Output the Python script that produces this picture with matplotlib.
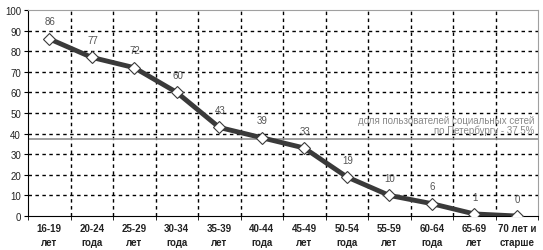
import matplotlib.pyplot as plt
import numpy as np

plt.rcParams['font.family'] = ['Liberation Sans', 'DejaVu Sans']

groups = ['16-19\nлет', '20-24\nгода', '25-29\nлет', '30-34\nгода', '35-39\nлет', '40-44\nгода',
          '45-49\nлет', '50-54\nгода', '55-59\nлет', '60-64\nгода', '65-69\nлет', '70 лет и\nстарше']
share = [86, 77, 72, 60, 43, 38, 33, 19, 10, 6, 1, 0]
share_labels = ['86', '77', '72', '60', '43', '39', '33', '19', '10', '6', '1', '0']
city_avg = 37.5

fig = plt.figure(figsize=(5.43, 2.51), dpi=100)
ax = fig.add_axes([28 / 543, 1 - 217 / 251, 510 / 543, 206 / 251])

x = np.arange(len(share))
ax.set_xlim(-0.5, len(share) - 0.5)
ax.set_ylim(0, 100)

# сетка
for b in np.arange(0.5, len(share) - 0.5, 1):
    ax.axvline(b, color='black', lw=1.0, ls=(0, (2.5, 2.5)), zorder=1)
for yv in range(10, 100, 10):
    ax.axhline(yv, color='black', lw=1.0, ls=(0, (2.5, 2.5)), zorder=1)

ax.axhline(city_avg, color='#909090', lw=1.2, zorder=2)
ax.text(len(share) - 0.58, city_avg + 2, 'доля пользователей социальных сетей\nпо Петербургу - 37.5%',
        ha='right', va='bottom', fontsize=7, color='#8a8a8a', linespacing=0.95, zorder=3)

ax.plot(x, share, color='#3a3a3a', lw=3.5, marker='D', markersize=6.5,
        markerfacecolor='white', markeredgecolor='#3a3a3a', markeredgewidth=0.8, zorder=4)

for xi, v, s in zip(x, share, share_labels):
    ax.text(xi + 0.02, v + 6, s, ha='center', va='bottom', fontsize=7, color='#555555', zorder=5)

ax.set_xticks(x)
ax.set_xticklabels(groups, fontsize=7, fontweight='bold', color='#222222', linespacing=1.5)
ax.set_yticks(range(0, 101, 10))
ax.tick_params(axis='y', labelsize=7, length=3, pad=2, labelcolor='#222222')
ax.tick_params(axis='x', length=0, pad=5)
ax.set_xticks(np.arange(-0.5, len(share), 1), minor=True)
ax.tick_params(axis='x', which='minor', length=3, direction='out')

for side in ['top', 'right']:
    ax.spines[side].set_color('#a0a0a0')
ax.spines['left'].set_color('black')
ax.spines['bottom'].set_color('black')

plt.savefig('out.png', dpi=100)
